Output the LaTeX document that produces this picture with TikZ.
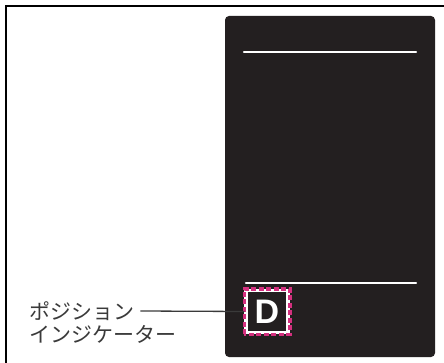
\documentclass[tikz,border=0pt]{standalone}
\usepackage{fontspec}
\setsansfont{Liberation Sans}
\newfontfamily\jpfont{Noto Sans CJK JP}
\usetikzlibrary{positioning}
\definecolor{panelblack}{HTML}{231F20}
\definecolor{dashpink}{HTML}{D4307F}
\definecolor{labelgray}{HTML}{3A3A3A}
\begin{document}
\begin{tikzpicture}[x=1pt, y=-1pt, node distance=4pt]
    \tikzstyle{panel} = [fill=panelblack, rounded corners=4pt]
    \tikzstyle{barline} = [draw=white, line width=2.2pt, line cap=round]
    \tikzstyle{jplabel} = [anchor=west, inner sep=0pt, text=labelgray, font=\jpfont\fontsize{21pt}{23pt}\selectfont]
    \tikzstyle{gearbox} = [draw=white, line width=3.5pt, minimum width=42pt, minimum height=42pt, inner sep=0pt, text=white, font=\sffamily\bfseries\fontsize{34pt}{34pt}\selectfont]
    \useasboundingbox (0,0) rectangle (444,363);

    % Frame
    \draw [line width=1.5pt] (6,363) -- (6,6) -- (444,6);

    % Display
    \fill [panel] (225,16) rectangle (435,357);
    \draw [barline] (244,52) -- (416,52);
    \draw [barline] (246,283) -- (416,283);

    % Position indicator
    \node [gearbox] (dbox) at (267,311.5) {D};
    \draw [dashpink, line width=3.5pt, dash pattern=on 5pt off 2.5pt] (dbox.south west) rectangle (dbox.north east);

    % Label
    \node [jplabel] (pos) at (29,311) {ポジション};
    \node [jplabel] (ind) at (29,334) {インジケーター};
    \draw [labelgray, line width=1.3pt] ([xshift=6pt]pos.east) -- (dbox.west);
\end{tikzpicture}
\end{document}
